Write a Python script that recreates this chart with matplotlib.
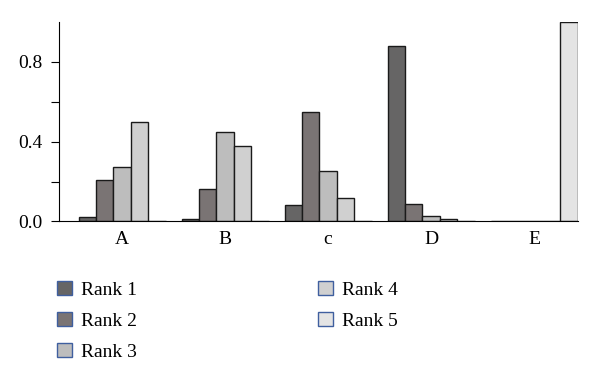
import numpy as np
import matplotlib.pyplot as plt
from matplotlib.patches import Patch

# ----------- Data ------------------
groups = ["A", "B", "c", "D", "E"]
ranks = ["Rank 1", "Rank 2", "Rank 3", "Rank 4", "Rank 5"]
rank1 = [0.023, 0.014, 0.083, 0.882, 0.003]
rank2 = [0.210, 0.162, 0.549, 0.086, 0.003]
rank3 = [0.272, 0.451, 0.252, 0.026, 0.003]
rank4 = [0.498, 0.379, 0.118, 0.012, 0.003]
rank5 = [0.003, 0.003, 0.003, 0.003, 1.000]
colors = ["#666565", "#7a7474", "#bdbdbd", "#d0d0d0", "#e4e4e4"]

plt.rcParams['font.family'] = ['Liberation Serif', 'DejaVu Serif']

fig = plt.figure(figsize=(6, 3.82), dpi=100)
ax = fig.add_axes([59/600, 1 - 221.5/382, (578 - 59)/600, 199.5/382])

x = np.arange(len(groups))
w = 0.169
series = [rank1, rank2, rank3, rank4, rank5]
for i, vals in enumerate(series):
    ax.bar(x + (i - 2) * w, vals, width=w, color=colors[i],
           edgecolor="#1a1a1a", linewidth=1.0)

ax.set_xlim(-0.612, 4.427)
ax.set_ylim(0, 1.0)
ax.set_xticks(x)
ax.set_xticklabels(groups)
ax.set_yticks([0.0, 0.4, 0.8])
ax.set_yticklabels(["0.0", "0.4", "0.8"])
ax.set_yticks([0.2, 0.6], minor=True)
ax.tick_params(axis='y', which='both', length=6, width=0.8, labelsize=14, pad=6)
ax.tick_params(axis='x', length=0, labelsize=14, pad=7)
for s in ["top", "right"]:
    ax.spines[s].set_visible(False)
ax.spines["left"].set_linewidth(0.8)
ax.spines["bottom"].set_linewidth(0.8)

# ----------- Legend ------------------
handles = [Patch(facecolor=c, edgecolor="#3f5f9f", linewidth=1.0) for c in colors]
fig.legend(handles, ranks, loc='upper left', bbox_to_anchor=(57/600, 1 - 281/382),
           ncol=2, frameon=False, fontsize=14, handlelength=0.75, handleheight=0.75,
           handletextpad=0.5, columnspacing=9.3, labelspacing=0.68, borderpad=0,
           borderaxespad=0)

fig.savefig("out.png", dpi=100)
